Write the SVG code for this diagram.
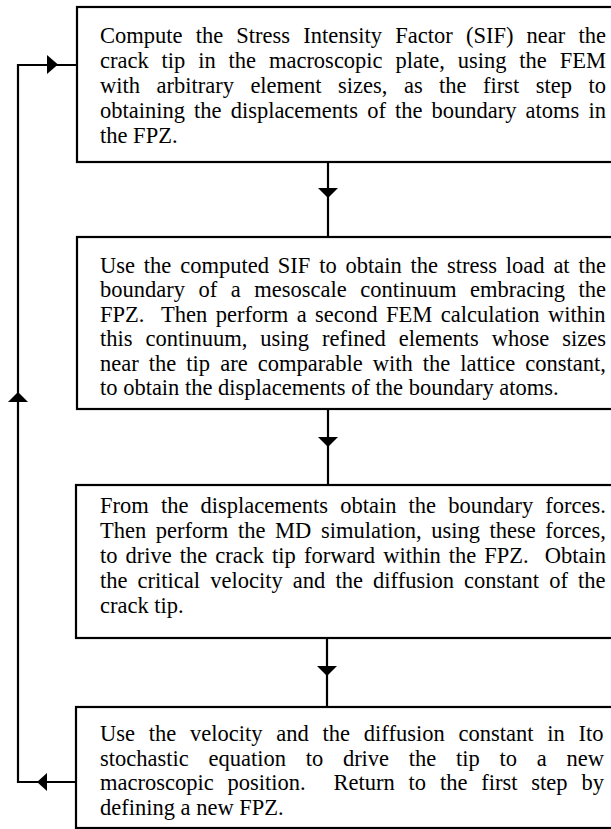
<svg xmlns="http://www.w3.org/2000/svg" width="611" height="829" viewBox="0 0 611 829">
<style>
.box{fill:#fff;stroke:#000;stroke-width:2.2}
.t{font-family:"Liberation Serif","Times New Roman",serif;font-size:22.5px;fill:#000}
.c{fill:none;stroke:#000;stroke-width:2.2}
.h{fill:#000;stroke:none}
</style>
<rect width="611" height="829" fill="#fff"/>
<g id="connectors">
<line class="c" x1="328" y1="162" x2="328" y2="237"/>
<polygon class="h" points="318,188 338,188 328,198"/>
<line class="c" x1="328" y1="409" x2="328" y2="485"/>
<polygon class="h" points="318,437 338,437 328,447"/>
<line class="c" x1="327" y1="638" x2="327" y2="707"/>
<polygon class="h" points="317,666 337,666 327,676"/>
<polyline class="c" points="76,782 18,782 18,65 76,65"/>
<polygon class="h" points="47,55 47,74 58,64.5"/>
<polygon class="h" points="37,782 47,773 47,791"/>
<polygon class="h" points="18,392 8,402 28,402"/>
</g>
<g id="step1">
<rect class="box" x="77" y="7" width="560" height="155"/>
<text class="t" x="100" y="43" style="word-spacing:7.56px">Compute the Stress Intensity Factor (SIF) near the</text>
<text class="t" x="100" y="68" style="word-spacing:7.24px">crack tip in the macroscopic plate, using the FEM</text>
<text class="t" x="100" y="93" style="word-spacing:10.84px">with arbitrary element sizes, as the first step to</text>
<text class="t" x="100" y="118" style="word-spacing:3.45px">obtaining the displacements of the boundary atoms in</text>
<text class="t" x="100" y="143">the FPZ.</text>
</g>
<g id="step2">
<rect class="box" x="77" y="237" width="560" height="172"/>
<text class="t" x="100" y="273" style="word-spacing:3.23px">Use the computed SIF to obtain the stress load at the</text>
<text class="t" x="100" y="297.4" style="word-spacing:7.89px">boundary of a mesoscale continuum embracing the</text>
<text class="t" x="100" y="321.8" style="word-spacing:2.86px">FPZ.&#160; Then perform a second FEM calculation within</text>
<text class="t" x="100" y="346.2" style="word-spacing:7.36px">this continuum, using refined elements whose sizes</text>
<text class="t" x="100" y="370.6" style="word-spacing:4.44px">near the tip are comparable with the lattice constant,</text>
<text class="t" x="100" y="395">to obtain the displacements of the boundary atoms.</text>
</g>
<g id="step3">
<rect class="box" x="76" y="485" width="560" height="153"/>
<text class="t" x="100" y="513" style="word-spacing:6.53px">From the displacements obtain the boundary forces.</text>
<text class="t" x="100" y="538" style="word-spacing:3.99px">Then perform the MD simulation, using these forces,</text>
<text class="t" x="100" y="563" style="word-spacing:2.42px">to drive the crack tip forward within the FPZ.&#160; Obtain</text>
<text class="t" x="100" y="588" style="word-spacing:4.51px">the critical velocity and the diffusion constant of the</text>
<text class="t" x="100" y="613">crack tip.</text>
</g>
<g id="step4">
<rect class="box" x="76" y="707" width="560" height="121"/>
<text class="t" x="100" y="741" style="word-spacing:8.16px">Use the velocity and the diffusion constant in Ito</text>
<text class="t" x="100" y="765.5" style="word-spacing:14.1px">stochastic equation to drive the tip to a new</text>
<text class="t" x="100" y="790" style="word-spacing:8.24px">macroscopic position.&#160; Return to the first step by</text>
<text class="t" x="100" y="814.5">defining a new FPZ.</text>
</g>
</svg>
